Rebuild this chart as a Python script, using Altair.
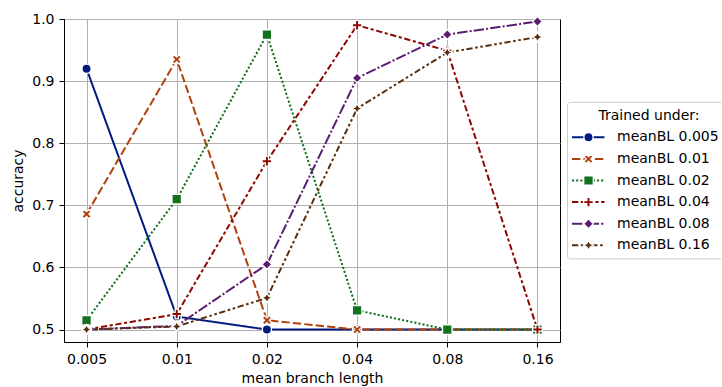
import altair as alt
import pandas as pd

# ---------------- data ----------------
branch_lengths = [0.005, 0.01, 0.02, 0.04, 0.08, 0.16]
series_names = ["meanBL 0.005", "meanBL 0.01", "meanBL 0.02",
                "meanBL 0.04", "meanBL 0.08", "meanBL 0.16"]
acc_005 = [0.920, 0.521, 0.500, 0.500, 0.500, 0.500]
acc_01 = [0.686, 0.935, 0.515, 0.500, 0.500, 0.500]
acc_02 = [0.515, 0.710, 0.975, 0.531, 0.500, 0.500]
acc_04 = [0.500, 0.525, 0.771, 0.990, 0.949, 0.500]
acc_08 = [0.500, 0.506, 0.605, 0.905, 0.975, 0.996]
acc_16 = [0.500, 0.505, 0.551, 0.856, 0.946, 0.971]
all_series = [acc_005, acc_01, acc_02, acc_04, acc_08, acc_16]

legend_title = "Trained under:"
x_title = "mean branch length"
y_title = "accuracy"
y_ticks = [0.5, 0.6, 0.7, 0.8, 0.9, 1.0]

# ---------------- styles ----------------
colors = ["#001c7f", "#b1400d", "#12711c", "#8c0800", "#591e71", "#592f0d"]
u = 2.083  # 1.5pt line width in px; seaborn dashes are in units of line width
dashes = [[1, 0],
          [4 * u, 1.5 * u],
          [1 * u, 1 * u],
          [3 * u, 1.25 * u, 1.5 * u, 1.25 * u],
          [5 * u, 1 * u, 1 * u, 1 * u],
          [3 * u, 1.25 * u, 1.25 * u, 1.25 * u, 1.25 * u, 1.25 * u]]


def poly(pts):
    return "M" + "L".join(f"{x:.3f},{y:.3f}" for x, y in pts) + "Z"


x_filled = poly([(-0.5, -1), (0, -0.5), (0.5, -1), (1, -0.5), (0.5, 0), (1, 0.5),
                 (0.5, 1), (0, 0.5), (-0.5, 1), (-1, 0.5), (-0.5, 0), (-1, -0.5)])
t = 1 / 3
plus_filled = poly([(-t, -1), (t, -1), (t, -t), (1, -t), (1, t), (t, t), (t, 1),
                    (-t, 1), (-t, t), (-1, t), (-1, -t), (-t, -t)])
s = 0.354
star4 = poly([(0, -1), (s, -s), (1, 0), (s, s), (0, 1), (-s, s), (-1, 0), (-s, -s)])
shapes = ["circle", x_filled, "square", plus_filled, "diamond", star4]
sizes = [85, 100, 38, 100, 85, 100]

rows = []
for name, vals in zip(series_names, all_series):
    for bl, a in zip(branch_lengths, vals):
        rows.append({"series": name, "bl": bl, "acc": a})
df = pd.DataFrame(rows)

color_scale = alt.Scale(domain=series_names, range=colors)
dash_scale = alt.Scale(domain=series_names, range=dashes)
shape_scale = alt.Scale(domain=series_names, range=shapes)
size_scale = alt.Scale(domain=series_names, range=sizes)

pad = 2 ** 0.25
x_scale = alt.Scale(type="log", domain=[branch_lengths[0] / pad, branch_lengths[-1] * pad], nice=False)
y_scale = alt.Scale(domain=[0.48, 1.0], nice=False, zero=False)

x_enc = alt.X("bl:Q", scale=x_scale,
              axis=alt.Axis(values=branch_lengths, format="~g", title=x_title,
                            labelPadding=5, titlePadding=5))
y_enc = alt.Y("acc:Q", scale=y_scale,
              axis=alt.Axis(values=y_ticks, format=".1f", title=y_title,
                            labelPadding=5, titlePadding=6))

lines = alt.Chart(df).mark_line(strokeWidth=2, strokeCap="butt", strokeJoin="round").encode(
    x=x_enc, y=y_enc,
    color=alt.Color("series:N", scale=color_scale, legend=None),
    strokeDash=alt.StrokeDash("series:N", scale=dash_scale, legend=None),
    detail="series:N",
)
points = alt.Chart(df).mark_point(filled=True, opacity=1, stroke="white", strokeWidth=1.3).encode(
    x=x_enc, y=y_enc,
    color=alt.Color("series:N", scale=color_scale, legend=None),
    shape=alt.Shape("series:N", scale=shape_scale, legend=None),
    size=alt.Size("series:N", scale=size_scale, legend=None),
)
main = alt.layer(lines, points).properties(width=496, height=323)

# ---------------- legend panel ----------------
leg_df = pd.DataFrame({"series": series_names, "row": list(range(1, len(series_names) + 1))})
one_row = pd.DataFrame({"title": [legend_title]})
lx = alt.Scale(domain=[0, 154], nice=False, zero=False)
ly = alt.Scale(domain=[-4.477, 10.477], reverse=True, nice=False, zero=False)
row_y = alt.Y("row:Q", scale=ly, axis=None)

box = alt.Chart(one_row).mark_rect(fill="white", fillOpacity=0.8, stroke="#cccccc",
                                   strokeWidth=1, cornerRadius=3, clip=True).encode(
    x=alt.XDatum(0.5, type="quantitative", scale=lx, axis=None),
    x2=alt.X2Datum(175),
    y=alt.YDatum(-0.62, type="quantitative", scale=ly, axis=None),
    y2=alt.Y2Datum(6.63),
)
title_txt = alt.Chart(one_row).mark_text(align="center", baseline="middle",
                                         fontSize=14, font="DejaVu Sans", color="black").encode(
    x=alt.XDatum(82, type="quantitative", scale=lx, axis=None),
    y=alt.YDatum(0, type="quantitative", scale=ly, axis=None),
    text="title:N",
)
leg_lines = alt.Chart(leg_df).mark_rule(strokeWidth=2, strokeCap="butt").encode(
    x=alt.XDatum(5, type="quantitative", scale=lx, axis=None),
    x2=alt.X2Datum(37.5),
    y=row_y,
    color=alt.Color("series:N", scale=color_scale, legend=None),
    strokeDash=alt.StrokeDash("series:N", scale=dash_scale, legend=None),
)
leg_pts = alt.Chart(leg_df).mark_point(filled=True, opacity=1, stroke="white", strokeWidth=1.3).encode(
    x=alt.XDatum(21.5, type="quantitative", scale=lx, axis=None),
    y=row_y,
    color=alt.Color("series:N", scale=color_scale, legend=None),
    shape=alt.Shape("series:N", scale=shape_scale, legend=None),
    size=alt.Size("series:N", scale=size_scale, legend=None),
)
leg_txt = alt.Chart(leg_df).mark_text(align="left", baseline="middle", fontSize=14,
                                      font="DejaVu Sans", color="black").encode(
    x=alt.XDatum(50, type="quantitative", scale=lx, axis=None),
    y=row_y,
    text="series:N",
)
legend = alt.layer(box, title_txt, leg_lines, leg_pts, leg_txt).properties(
    width=154, height=323, view=alt.ViewBackground(stroke="transparent"))

chart = alt.hconcat(main, legend, spacing=7, bounds="flush").properties(
    padding={"left": 11, "top": 11, "right": 0, "bottom": 0}
).configure_view(stroke="black", strokeWidth=1).configure_axis(
    labelFont="DejaVu Sans", titleFont="DejaVu Sans",
    labelFontSize=14, titleFontSize=14, titleFontWeight="normal",
    labelColor="black", titleColor="black",
    tickColor="black", tickSize=5, tickWidth=1,
    domainColor="black", domainWidth=1,
    gridColor="#b0b0b0", gridWidth=1, gridOpacity=1,
)

chart.save("out.html", embed_options={"renderer": "svg", "actions": False})
